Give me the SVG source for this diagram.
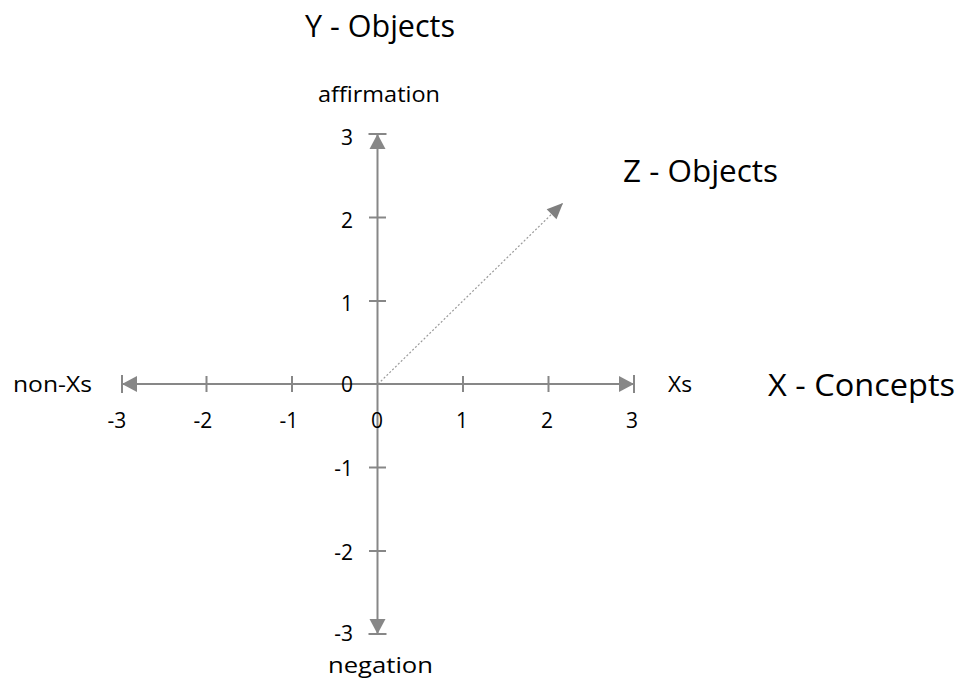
<svg xmlns="http://www.w3.org/2000/svg" width="961" height="695" viewBox="0 0 961 695">
<style>
.ax{stroke:#878787;stroke-width:2;fill:none}
.tk{stroke:#878787;stroke-width:2}
.big{font-family:"Open Sans","Liberation Sans",sans-serif;font-size:31px;fill:#000}
.sm{font-family:"Open Sans","Liberation Sans",sans-serif;font-size:21px;fill:#000}
.lb{font-family:"Open Sans","Liberation Sans",sans-serif;font-size:22px;fill:#000}
.z{stroke:#9a9a9a;stroke-width:1.2;stroke-dasharray:2 2;fill:none}
</style>
<defs>
<marker id="axend" markerUnits="userSpaceOnUse" markerWidth="20" markerHeight="20" viewBox="-17 -10 20 20" refX="0" refY="0" orient="auto" overflow="visible">
<path d="M-15,-8 L0,0 L-15,8 Z" fill="#878787"/>
<line x1="0" y1="-9" x2="0" y2="9" stroke="#878787" stroke-width="2"/>
</marker>
<marker id="zend" markerUnits="userSpaceOnUse" markerWidth="20" markerHeight="20" viewBox="-17 -10 20 20" refX="0" refY="0" orient="auto" overflow="visible">
<path d="M-16,-7 L0,0 L-16,7 Z" fill="#7f7f7f"/>
</marker>
</defs>
<g id="connectors">
<line class="ax" x1="377.5" y1="384" x2="122" y2="384" marker-end="url(#axend)"/>
<line class="ax" x1="377.5" y1="384" x2="634" y2="384" marker-end="url(#axend)"/>
<line class="ax" x1="377.5" y1="384" x2="377.5" y2="134" marker-end="url(#axend)"/>
<line class="ax" x1="377.5" y1="384" x2="377.5" y2="634" marker-end="url(#axend)"/>
<line class="z" x1="378" y1="384" x2="563" y2="203" marker-end="url(#zend)"/>
</g>
<g id="x-ticks">
<line class="tk" x1="206.5" y1="376" x2="206.5" y2="392"/>
<line class="tk" x1="292" y1="376" x2="292" y2="392"/>
<line class="tk" x1="463" y1="376" x2="463" y2="392"/>
<line class="tk" x1="548.5" y1="376" x2="548.5" y2="392"/>
<line class="tk" x1="369" y1="384" x2="386" y2="384"/>
</g>
<g id="y-ticks">
<line class="tk" x1="369" y1="217.5" x2="386" y2="217.5"/>
<line class="tk" x1="369" y1="301" x2="386" y2="301"/>
<line class="tk" x1="369" y1="467.5" x2="386" y2="467.5"/>
<line class="tk" x1="369" y1="551" x2="386" y2="551"/>
</g>
<g id="x-labels" class="sm" text-anchor="middle">
<text x="117" y="428">-3</text>
<text x="203" y="428">-2</text>
<text x="289" y="428">-1</text>
<text x="377" y="428">0</text>
<text x="462" y="428">1</text>
<text x="547" y="428">2</text>
<text x="632" y="428">3</text>
</g>
<g id="y-labels" class="sm" text-anchor="end">
<text x="353" y="145">3</text>
<text x="353" y="228">2</text>
<text x="353" y="311">1</text>
<text x="353" y="392">0</text>
<text x="353" y="476">-1</text>
<text x="353" y="560">-2</text>
<text x="353" y="641">-3</text>
</g>
<g id="titles">
<text id="y-title" class="big" x="305" y="37" textLength="150" lengthAdjust="spacingAndGlyphs">Y - Objects</text>
<text id="z-title" class="big" x="623" y="182" textLength="155" lengthAdjust="spacingAndGlyphs">Z - Objects</text>
<text id="x-title" class="big" x="768" y="396" textLength="187" lengthAdjust="spacingAndGlyphs">X - Concepts</text>
</g>
<g id="axis-labels" class="lb">
<text id="affirmation" x="318" y="102" textLength="122" lengthAdjust="spacingAndGlyphs">affirmation</text>
<text id="negation" x="328" y="673" textLength="105" lengthAdjust="spacingAndGlyphs">negation</text>
<text id="non-xs" x="13" y="392" textLength="79" lengthAdjust="spacingAndGlyphs">non-Xs</text>
<text id="xs" x="668" y="392" textLength="24" lengthAdjust="spacingAndGlyphs">Xs</text>
</g>
</svg>
